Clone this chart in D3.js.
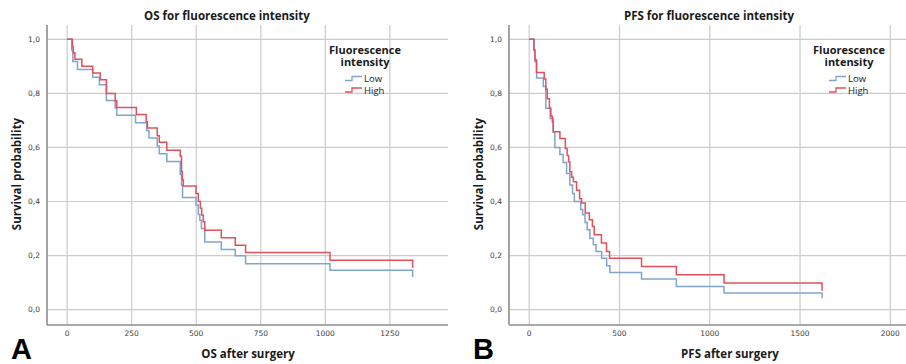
<!DOCTYPE html>
<html lang="en">
    <head>
        <meta charset="utf-8">
        <title>OS and PFS for fluorescence intensity</title>
        <style>
            body {
                margin : 0;
                background : #fff;
            }
            .grid line {
                stroke : #cbcbcb;
                stroke-width : 1.2;
            }
            .axis-line {
                stroke : #8c8c8c;
                stroke-width : 1.6;
            }
            .tick-label {
                font-family : "DejaVu Sans", sans-serif;
                font-size : 7.5px;
                fill : #3a3a3a;
            }
            .bold-label {
                font-family : "Open Sans", sans-serif;
                font-weight : bold;
                font-size : 11.5px;
                fill : #1a1a1a;
            }
            .legend-title {
                font-family : "Open Sans", sans-serif;
                font-weight : bold;
                font-size : 11px;
                fill : #1a1a1a;
            }
            .legend-item {
                font-family : "Open Sans", sans-serif;
                font-size : 9.5px;
                fill : #1a1a1a;
            }
            .panel-letter {
                font-family : "Liberation Sans", sans-serif;
                font-weight : bold;
                font-size : 29px;
                fill : #000;
            }
            .curve {
                fill : none;
                stroke-width : 1.5;
            }
        </style>
    </head>
    <body>
        <svg id="chart" width="906" height="364"></svg>
    </body>

    <script src="https://cdn.jsdelivr.net/npm/d3@7/dist/d3.min.js"></script>

    <script>

    // Kaplan-Meier steps (time in days, survival probability)
    var os_time_low  = [0, 18, 22, 40, 99, 125, 152, 186, 192, 265, 308, 317, 349, 357, 386, 438, 443, 447, 499, 508, 514, 520, 533, 597, 651, 691, 1018, 1338];
    var os_surv_low  = [1.0, 0.96, 0.918, 0.888, 0.86, 0.832, 0.774, 0.746, 0.719, 0.691, 0.663, 0.635, 0.605, 0.577, 0.548, 0.50, 0.46, 0.415, 0.387, 0.352, 0.331, 0.30, 0.25, 0.222, 0.199, 0.170, 0.146, 0.121];
    var os_time_high = [0, 20, 24, 30, 57, 99, 128, 152, 186, 192, 268, 306, 311, 349, 357, 386, 438, 443, 446, 450, 499, 508, 516, 521, 527, 533, 597, 651, 691, 1018, 1338];
    var os_surv_high = [1.0, 0.973, 0.95, 0.926, 0.90, 0.875, 0.85, 0.80, 0.773, 0.748, 0.722, 0.695, 0.672, 0.643, 0.619, 0.590, 0.567, 0.51, 0.48, 0.457, 0.43, 0.40, 0.375, 0.35, 0.325, 0.294, 0.266, 0.238, 0.211, 0.183, 0.155];

    var pfs_time_low  = [0, 28, 32, 41, 78, 92, 116, 133, 142, 170, 188, 207, 225, 240, 250, 285, 296, 309, 321, 336, 355, 370, 401, 429, 447, 622, 815, 1079, 1622];
    var pfs_surv_low  = [1.0, 0.96, 0.917, 0.857, 0.825, 0.745, 0.707, 0.658, 0.60, 0.574, 0.544, 0.504, 0.461, 0.43, 0.40, 0.37, 0.351, 0.322, 0.295, 0.264, 0.24, 0.215, 0.19, 0.162, 0.137, 0.113, 0.085, 0.061, 0.042];
    var pfs_time_high = [0, 26, 32, 40, 83, 92, 100, 112, 120, 128, 133, 170, 200, 210, 218, 225, 235, 245, 262, 279, 290, 310, 333, 350, 360, 400, 428, 445, 622, 815, 1079, 1622];
    var pfs_surv_high = [1.0, 0.96, 0.924, 0.877, 0.853, 0.815, 0.78, 0.745, 0.715, 0.695, 0.658, 0.633, 0.596, 0.57, 0.547, 0.51, 0.49, 0.473, 0.442, 0.41, 0.394, 0.357, 0.332, 0.307, 0.277, 0.246, 0.215, 0.19, 0.159, 0.129, 0.098, 0.07];

    var groups = ["Low", "High"];
    var group_colors = ["#7fa5cb", "#e2505b"];

    var y_ticks = [0, 0.2, 0.4, 0.6, 0.8, 1.0];
    var os_x_ticks = [0, 250, 500, 750, 1000, 1250];
    var pfs_x_ticks = [0, 500, 1000, 1500, 2000];

    function zip( t , s )
    {
        return t.map( function( d , i ) { return [ d , s[i] ]; } );
    }

    function km_panel( svg , opt )
    {
        var g = svg.append( "g" );

        var x = d3.scaleLinear().domain( opt.x_domain ).range( [ opt.left , opt.right ] );
        var y = d3.scaleLinear().domain( [ -0.057 , 1.053 ] ).range( [ 325 , 25 ] );

        var grid = g.append( "g" ).attr( "class" , "grid" );
        grid.selectAll( ".hg" )
            .data( y_ticks )
            .enter().append( "line" )
                .attr( "x1" , opt.left ).attr( "x2" , opt.right )
                .attr( "y1" , y ).attr( "y2" , y );
        grid.selectAll( ".vg" )
            .data( opt.x_ticks )
            .enter().append( "line" )
                .attr( "x1" , x ).attr( "x2" , x )
                .attr( "y1" , 25 ).attr( "y2" , 325 );

        // axis lines
        g.append( "line" ).attr( "class" , "axis-line" )
            .attr( "x1" , opt.left ).attr( "x2" , opt.left ).attr( "y1" , 25 ).attr( "y2" , 325 );
        g.append( "line" ).attr( "class" , "axis-line" )
            .attr( "x1" , opt.left ).attr( "x2" , opt.right ).attr( "y1" , 325 ).attr( "y2" , 325 );

        g.selectAll( ".ylab" )
            .data( y_ticks )
            .enter().append( "text" )
                .attr( "class" , "tick-label" )
                .attr( "x" , opt.left - 7 )
                .attr( "y" , function( d ) { return y( d ) + 2.7; } )
                .attr( "text-anchor" , "end" )
                .text( function( d ) { return d3.format( ".1f" )( d ).replace( "." , "," ); } );

        g.selectAll( ".xlab" )
            .data( opt.x_ticks )
            .enter().append( "text" )
                .attr( "class" , "tick-label" )
                .attr( "x" , x )
                .attr( "y" , 336 )
                .attr( "text-anchor" , "middle" )
                .text( function( d ) { return d; } );

        var line = d3.line()
            .x( function( d ) { return x( d[0] ); } )
            .y( function( d ) { return y( d[1] ); } )
            .curve( d3.curveStepAfter );

        opt.series.forEach( function( s , i ) {
            g.append( "path" )
                .attr( "class" , "curve" )
                .attr( "stroke" , group_colors[i] )
                .attr( "d" , line( s ) );
        } );

        // titles
        g.append( "text" ).attr( "class" , "bold-label" )
            .attr( "x" , opt.title_x ).attr( "y" , 20 )
            .attr( "text-anchor" , "middle" )
            .text( opt.title );
        g.append( "text" ).attr( "class" , "bold-label" )
            .attr( "x" , opt.title_x + 21 ).attr( "y" , 358 )
            .attr( "text-anchor" , "middle" )
            .text( opt.x_title );
        g.append( "text" ).attr( "class" , "bold-label" )
            .attr( "transform" , "translate(" + ( opt.left - 26 ) + ",174) rotate(-90)" )
            .attr( "text-anchor" , "middle" )
            .text( "Survival probability" );
        g.append( "text" ).attr( "class" , "panel-letter" )
            .attr( "x" , opt.left - 36 ).attr( "y" , 359 )
            .text( opt.letter );

        // legend
        var lg = g.append( "g" ).attr( "transform" , "translate(" + opt.legend_x + ",0)" );
        lg.append( "text" ).attr( "class" , "legend-title" )
            .attr( "x" , 0 ).attr( "y" , 54 ).attr( "text-anchor" , "middle" )
            .text( "Fluorescence" );
        lg.append( "text" ).attr( "class" , "legend-title" )
            .attr( "x" , 0 ).attr( "y" , 66 ).attr( "text-anchor" , "middle" )
            .text( "intensity" );
        var item = lg.selectAll( ".item" )
            .data( groups )
            .enter().append( "g" )
                .attr( "transform" , function( d , i ) { return "translate(0," + ( 78 + i * 11.5 ) + ")"; } );
        item.append( "path" )
            .attr( "fill" , "none" )
            .attr( "stroke-width" , 1.3 )
            .attr( "stroke" , function( d , i ) { return group_colors[i]; } )
            .attr( "d" , "M-20,2.5H-13V-1.5H-3" );
        item.append( "text" ).attr( "class" , "legend-item" )
            .attr( "x" , -1 ).attr( "y" , 4.2 )
            .text( function( d ) { return d; } );
    }

    var svg = d3.select( "#chart" );

    km_panel( svg , {
        left : 47 , right : 448 , x_domain : [ -78 , 1475 ] , x_ticks : os_x_ticks ,
        series : [ zip( os_time_low , os_surv_low ) , zip( os_time_high , os_surv_high ) ] ,
        title : "OS for fluorescence intensity" , title_x : 227 ,
        x_title : "OS after surgery" , letter : "A" , legend_x : 365
    } );

    km_panel( svg , {
        left : 509 , right : 906 , x_domain : [ -112 , 2087 ] , x_ticks : pfs_x_ticks ,
        series : [ zip( pfs_time_low , pfs_surv_low ) , zip( pfs_time_high , pfs_surv_high ) ] ,
        title : "PFS for fluorescence intensity" , title_x : 709 ,
        x_title : "PFS after surgery" , letter : "B" , legend_x : 849
    } );

    </script>
</html>
